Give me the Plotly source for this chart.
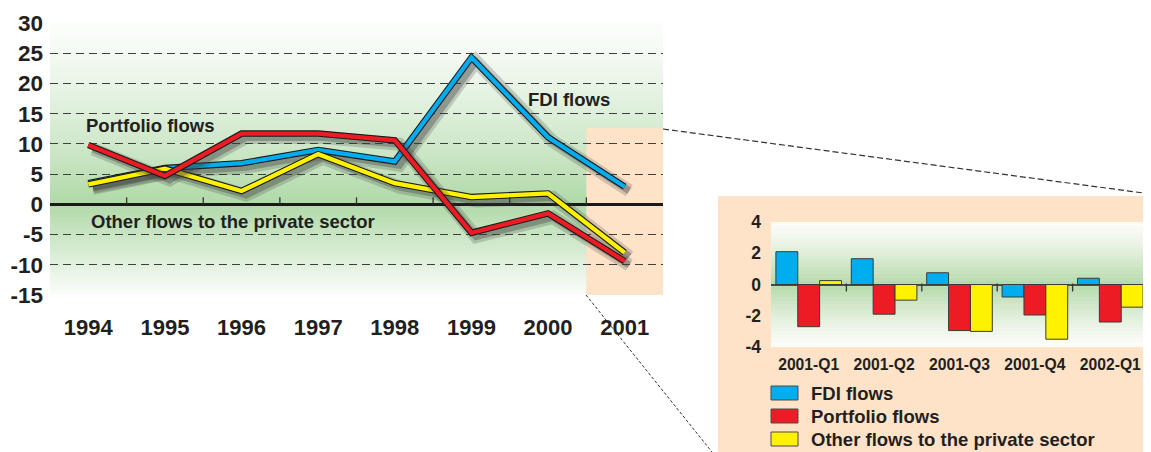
import plotly.graph_objects as go

# ---------------- data ----------------
years = ["1994", "1995", "1996", "1997", "1998", "1999", "2000", "2001"]
fdi_annual = [3.5, 6.0, 6.8, 9.0, 7.1, 24.3, 11.1, 2.9]
portfolio_annual = [9.8, 4.7, 11.7, 11.7, 10.6, -4.7, -1.5, -9.4]
other_annual = [3.3, 5.9, 2.2, 8.3, 3.5, 1.2, 1.8, -8.0]

quarters = ["2001-Q1", "2001-Q2", "2001-Q3", "2001-Q4", "2002-Q1"]
fdi_quarterly = [2.1, 1.65, 0.75, -0.8, 0.4]
portfolio_quarterly = [-2.7, -1.9, -2.95, -1.95, -2.4]
other_quarterly = [0.25, -1.0, -3.0, -3.5, -1.45]

main_yticks = [-15, -10, -5, 0, 5, 10, 15, 20, 25, 30]
inset_yticks = [-4, -2, 0, 2, 4]

series_names = ["FDI flows", "Portfolio flows", "Other flows to the private sector"]
series_colors = ["#00aeef", "#ed1c24", "#fff200"]

# ---------------- geometry / style ----------------
W, H = 1151, 452          # target picture size
OFF = 8                   # page body margin offset
FW, FH = W - OFF, H - OFF  # figure size
FONT = "Liberation Sans, Arial, Helvetica, sans-serif"
TXT = "#231f20"
PEACH = "#fee3c8"
GREEN = (176, 217, 168)


def mix(a):
    r = round(255 + (GREEN[0] - 255) * a)
    g = round(255 + (GREEN[1] - 255) * a)
    b = round(255 + (GREEN[2] - 255) * a)
    return f"rgb({r},{g},{b})"


def px(xp):
    return (xp - OFF) / FW


def py(yp):
    return 1 - (yp - OFF) / FH


fig = go.Figure()
n = len(years)
xs = list(range(n))

annual = [fdi_annual, portfolio_annual, other_annual]
draw_order = [0, 2, 1]
for k in draw_order:
    vals = annual[k]
    sx = [x + 0.06 for x in xs]
    sy = [v - 0.65 for v in vals]
    fig.add_trace(go.Scatter(x=sx, y=sy, mode="lines", showlegend=False, hoverinfo="skip",
                             line=dict(color="rgba(60,60,60,0.22)", width=13)))
    fig.add_trace(go.Scatter(x=sx, y=sy, mode="lines", showlegend=False, hoverinfo="skip",
                             line=dict(color="rgba(60,60,60,0.35)", width=7)))
    fig.add_trace(go.Scatter(x=xs, y=vals, mode="lines", showlegend=False, hoverinfo="skip",
                             line=dict(color="#1a1a1a", width=6.5)))
    fig.add_trace(go.Scatter(x=xs, y=vals, mode="lines", name=series_names[k], showlegend=False,
                             line=dict(color=series_colors[k], width=4.3)))

quarterly = [fdi_quarterly, portfolio_quarterly, other_quarterly]
for k in range(3):
    fig.add_trace(go.Bar(x=quarters, y=quarterly[k], name=series_names[k], showlegend=False,
                         marker=dict(color=series_colors[k], line=dict(color="#3a3a3a", width=1)),
                         xaxis="x2", yaxis="y2"))

shapes = []
# inset peach panel
shapes.append(dict(type="rect", xref="paper", yref="paper", x0=px(718), x1=1, y0=0, y1=py(196),
                   fillcolor=PEACH, line=dict(width=0), layer="below"))

# main gradient strips
step = 0.25
y = -15.0
while y < 30 - 1e-9:
    mid = y + step / 2
    if mid >= 0:
        a = 0.05 + 0.95 * (1 - mid / 30) ** 1.3
    else:
        a = 0.05 + 0.95 * (1 + mid / 15) ** 1.0
    shapes.append(dict(type="rect", xref="x domain", yref="y", x0=0, x1=1, y0=y, y1=min(30, y + step + 0.12),
                       fillcolor=mix(a), line=dict(width=0), layer="below"))
    y += step

# main peach region (last year)
shapes.append(dict(type="rect", xref="x", yref="y", x0=n - 1.5, x1=n - 0.5, y0=-15, y1=12.6,
                   fillcolor=PEACH, line=dict(width=0), layer="below"))

# inset gradient strips
step2 = 0.05
y = -4.0
while y < 4 - 1e-9:
    mid = y + step2 / 2
    a = 0.04 + 0.96 * (1 - abs(mid) / 4) ** 1.3
    shapes.append(dict(type="rect", xref="x2 domain", yref="y2", x0=0, x1=1, y0=y, y1=min(4, y + step2 + 0.02),
                       fillcolor=mix(a), line=dict(width=0), layer="below"))
    y += step2

# category-boundary ticks on the zero lines
for i in range(n - 1):
    shapes.append(dict(type="line", xref="x", yref="y", x0=i + 0.5, x1=i + 0.5,
                       ysizemode="pixel", yanchor=0, y0=0, y1=7, line=dict(color="#333", width=1.3)))
for i in range(len(quarters) - 1):
    shapes.append(dict(type="line", xref="x2", yref="y2", x0=i + 0.5, x1=i + 0.5,
                       ysizemode="pixel", yanchor=0, y0=1, y1=-7, line=dict(color="#333", width=1.3)))

# zoom connector lines
shapes.append(dict(type="line", xref="paper", yref="paper", x0=px(663), y0=py(129), x1=1, y1=py(194),
                   line=dict(color="#333", width=1.2, dash="6px,3px"), layer="above"))
shapes.append(dict(type="line", xref="paper", yref="paper", x0=px(586), y0=py(295), x1=px(712), y1=0,
                   line=dict(color="#333", width=1, dash="3px,2px"), layer="above"))

annotations = [
    dict(text="Portfolio flows", x=px(84), y=py(126), xref="paper", yref="paper",
         xanchor="left", yanchor="middle", showarrow=False, font=dict(size=18.5)),
    dict(text="Other flows to the private sector", x=px(89), y=py(221), xref="paper", yref="paper",
         xanchor="left", yanchor="middle", showarrow=False, font=dict(size=18.5)),
    dict(text="FDI flows", x=px(526), y=py(99), xref="paper", yref="paper",
         xanchor="left", yanchor="middle", showarrow=False, font=dict(size=18.5)),
]

# legend (swatches + labels)
legend_rows = [393, 416, 439]
for k in range(3):
    yc = legend_rows[k]
    shapes.append(dict(type="rect", xref="paper", yref="paper", x0=px(771), x1=px(798),
                       y0=py(yc + 7), y1=py(yc - 7), fillcolor=series_colors[k],
                       line=dict(color="#4a4a4a", width=1), layer="above"))
    annotations.append(dict(text=series_names[k], x=px(809), y=py(yc), xref="paper", yref="paper",
                            xanchor="left", yanchor="middle", showarrow=False, font=dict(size=18.5)))

fig.update_layout(
    template="none",
    width=FW, height=FH,
    margin=dict(l=0, r=0, t=0, b=0, pad=0),
    paper_bgcolor="white",
    plot_bgcolor="rgba(0,0,0,0)",
    font=dict(family=FONT, color=TXT, weight="bold"),
    showlegend=False,
    shapes=shapes,
    annotations=annotations,
    barmode="group", bargap=0.13, bargroupgap=0,
    xaxis=dict(domain=[px(50), px(663)], anchor="y", range=[-0.5, n - 0.5], automargin=False,
               tickvals=xs, ticktext=years, showgrid=False, zeroline=False, showline=False,
               ticks="", ticklabelstandoff=17, tickfont=dict(size=22)),
    yaxis=dict(domain=[py(295), py(23)], anchor="x", range=[-15, 30], automargin=False,
               tickvals=main_yticks, ticktext=[str(v) for v in main_yticks],
               showgrid=True, gridcolor="#3f3f3f", gridwidth=1.3, griddash="8px,5px",
               zeroline=True, zerolinecolor="#1a1a1a", zerolinewidth=2.5, showline=False,
               ticks="", ticklabelstandoff=6, tickfont=dict(size=22.5)),
    xaxis2=dict(domain=[px(771), px(1148)], anchor="y2", type="category", automargin=False,
                showgrid=False, zeroline=False, showline=False, ticks="",
                ticklabelstandoff=6, tickfont=dict(size=15.7)),
    yaxis2=dict(domain=[py(347), py(222)], anchor="x2", range=[-4, 4], automargin=False,
                tickvals=inset_yticks, ticktext=[str(v) for v in inset_yticks],
                showgrid=False, zeroline=True, zerolinecolor="#4a4a4a", zerolinewidth=2, showline=False,
                ticks="", ticklabelstandoff=9, tickfont=dict(size=17.5)),
)

fig.write_html("out.html")
